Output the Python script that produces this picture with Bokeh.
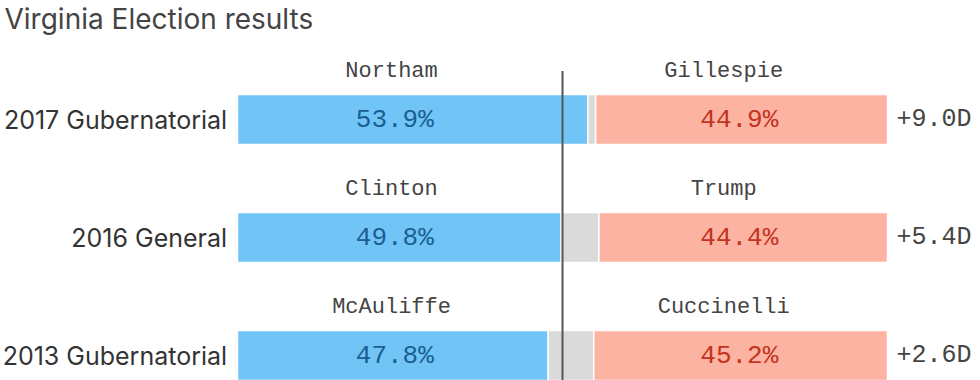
from bokeh.plotting import figure
from bokeh.models import Range1d, ColumnDataSource, Label
from bokeh.core.properties import value
from bokeh.embed import file_html
from bokeh.resources import INLINE

# ---- data ----
races = ["2017 Gubernatorial", "2016 General", "2013 Gubernatorial"]
dem_names = ["Northam", "Clinton", "McAuliffe"]
rep_names = ["Gillespie", "Trump", "Cuccinelli"]
dem_pct = [53.9, 49.8, 47.8]
rep_pct = [44.9, 44.4, 45.2]
margins = ["+9.0D", "+5.4D", "+2.6D"]

W, H = 980, 380
PX_PER_PCT = 6.5
X0 = 237            # px of 0% inside figure
ROW_PX = 118
Y0 = 119            # px of first row centre
BAR_H = 50 / ROW_PX

x_start = -X0 / PX_PER_PCT
x_end = (W - X0) / PX_PER_PCT
y_top = -Y0 / ROW_PX
y_bot = (H - Y0) / ROW_PX

p = figure(width=W, height=H, output_backend="svg", toolbar_location=None,
           x_range=Range1d(x_start, x_end), y_range=Range1d(y_bot, y_top),
           min_border=0, outline_line_color=None, background_fill_color="white",
           border_fill_color="white")
p.axis.visible = False
p.grid.visible = False

rows = list(range(len(races)))
other = [100 - d - r for d, r in zip(dem_pct, rep_pct)]
src = ColumnDataSource(dict(
    y=rows, race=races, dn=dem_names, rn=rep_names,
    d=dem_pct, r=rep_pct,
    d_lbl=[f"{v:.1f}%" for v in dem_pct], r_lbl=[f"{v:.1f}%" for v in rep_pct],
    o_left=dem_pct, o_right=[d + o for d, o in zip(dem_pct, other)],
    r_left=[100 - v for v in rep_pct], right=[100] * len(rows), zero=[0] * len(rows),
    margin=margins,
))

p.hbar(y="y", left="zero", right="d", height=BAR_H, source=src,
       fill_color="#70c5f6", line_color="white", line_width=1.5)
p.hbar(y="y", left="o_left", right="o_right", height=BAR_H, source=src,
       fill_color="#dadada", line_color="white", line_width=1.5)
p.hbar(y="y", left="r_left", right="right", height=BAR_H, source=src,
       fill_color="#fdb3a1", line_color="white", line_width=1.5)

# midline at 50%
p.segment(x0=[50], x1=[50], y0=[-0.41], y1=[y_bot], line_color="#555555", line_width=2)

mono = value("Liberation Mono")
sans = value("Inter")

name_off = -0.41
src.data["name_y"] = [i + name_off for i in rows]
src.data["dn_x"] = [23.7] * len(rows)
src.data["rn_x"] = [74.8] * len(rows)
src.data["dp_x"] = [24.2] * len(rows)
src.data["rp_x"] = [77.2] * len(rows)
src.data["lab_x"] = [-1.6] * len(rows)
src.data["m_x"] = [101.4] * len(rows)

p.text(x="dn_x", y="name_y", text="dn", source=src, text_font=mono, text_font_size="22px",
       text_color="#444444", text_align="center", text_baseline="middle")
p.text(x="rn_x", y="name_y", text="rn", source=src, text_font=mono, text_font_size="22px",
       text_color="#444444", text_align="center", text_baseline="middle")
p.text(x="dp_x", y="y", text="d_lbl", source=src, text_font=mono, text_font_size="26px",
       text_color="#1a5e94", text_align="center", text_baseline="middle")
p.text(x="rp_x", y="y", text="r_lbl", source=src, text_font=mono, text_font_size="26px",
       text_color="#c2341f", text_align="center", text_baseline="middle")
p.text(x="m_x", y="y", text="margin", source=src, text_font=mono, text_font_size="25px",
       text_color="#444444", text_align="left", text_baseline="middle")
p.text(x="lab_x", y="y", text="race", source=src, text_font=sans, text_font_size="25px",
       text_color="#333333", text_align="right", text_baseline="middle")

p.add_layout(Label(x=4, y=H - 18, x_units="screen", y_units="screen",
                   text="Virginia Election results", text_font="Inter",
                   text_font_size="28px", text_color="#444444", text_baseline="middle"))

open("out.html", "w").write(file_html(p, INLINE))
